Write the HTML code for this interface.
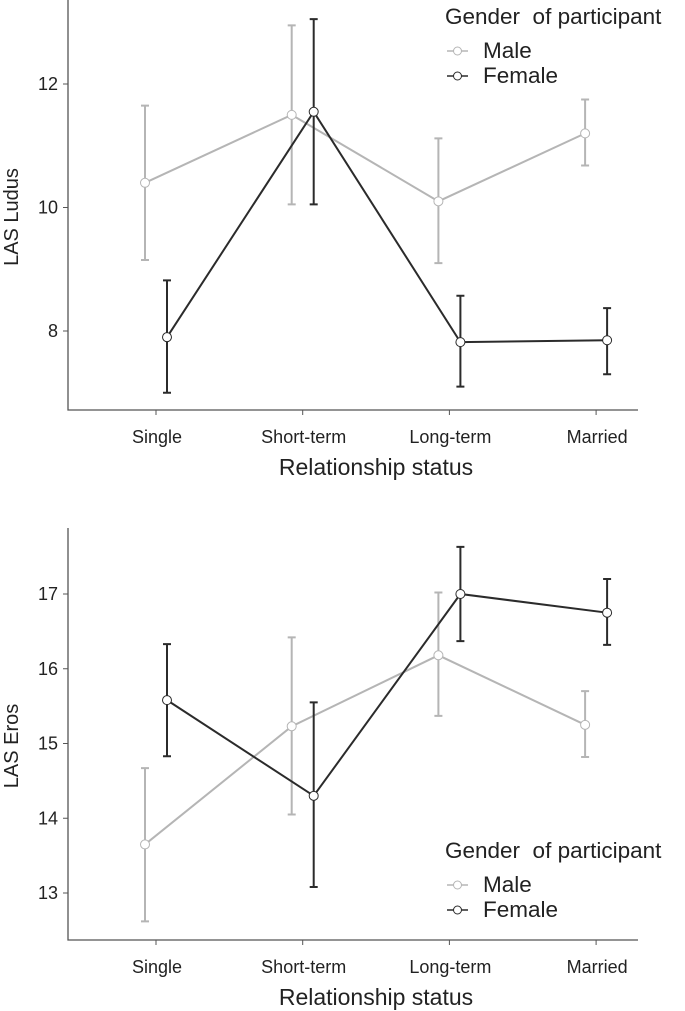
<!DOCTYPE html>
<html><head><meta charset="utf-8"><style>
body{margin:0;background:#fff}
svg{display:block;font-family:"Liberation Sans",Arial,sans-serif}
</style></head><body>
<svg id="s" width="685" height="1011"></svg>
<script>
const categories=["Single","Short-term","Long-term","Married"];
const ludusMale=[10.4,11.5,10.1,11.2];
const ludusMaleLo=[9.15,10.05,9.1,10.68];
const ludusMaleHi=[11.65,12.95,11.12,11.75];
const ludusFemale=[7.9,11.55,7.82,7.85];
const ludusFemaleLo=[7.0,10.05,7.1,7.3];
const ludusFemaleHi=[8.82,13.05,8.57,8.37];
const ludusTicks=[8,10,12];
const erosMale=[13.65,15.23,16.18,15.25];
const erosMaleLo=[12.62,14.05,15.37,14.82];
const erosMaleHi=[14.67,16.42,17.02,15.7];
const erosFemale=[15.58,14.3,17.0,16.75];
const erosFemaleLo=[14.83,13.08,16.37,16.32];
const erosFemaleHi=[16.33,15.55,17.63,17.2];
const erosTicks=[13,14,15,16,17];
const NS="http://www.w3.org/2000/svg";
const svg=document.getElementById("s");
function mk(t,a,p){const e=document.createElementNS(NS,t);for(const k in a)e.setAttribute(k,a[k]);(p||svg).appendChild(e);return e;}
function xPos(i){return 156+i*146.7;}
function panel(o){
  const g=mk("g",{});
  
  
  const y=v=>o.y0+(v-o.v0)*o.k;
  const ax=mk("path",{d:`M68,${o.top}V${o.bottom}H638`,stroke:"#555",fill:"none","stroke-width":1.3},g);
  
  o.ticks.forEach(t=>{
    mk("line",{x1:63,x2:68,y1:y(t),y2:y(t),stroke:"#555"},g);
    const tx=mk("text",{x:58,y:y(t)+6,"text-anchor":"end","font-size":18,fill:"#222"},g);tx.textContent=t;
    
  });
  categories.forEach((c,i)=>{
    mk("line",{x1:xPos(i),x2:xPos(i),y1:o.bottom,y2:o.bottom+5,stroke:"#555"},g);
    const tx=mk("text",{x:xPos(i)+1,y:o.bottom+33,"text-anchor":"middle","font-size":18,fill:"#222"},g);tx.textContent=c;
    
  });
  const xt=mk("text",{x:376,y:o.bottom+65,"text-anchor":"middle","font-size":23,fill:"#222"},g);xt.textContent="Relationship status";
  
  const cy=(o.top+o.bottom)/2+12;
  const yt=mk("text",{x:0,y:0,transform:`translate(18,${cy}) rotate(-90)`,"text-anchor":"middle","font-size":20,fill:"#222"},g);yt.textContent=o.ylab;
  
  [[o.m,o.mlo,o.mhi,"#b5b5b5",-11,"male"],[o.f,o.flo,o.fhi,"#2b2b2b",11,"female"]].forEach(([v,lo,hi,col,dx,nm])=>{
    const sg=mk("g",{},g);
    v.forEach((val,i)=>{const x=xPos(i)+dx;
      const eb=mk("path",{d:`M${x},${y(lo[i])}V${y(hi[i])}M${x-4},${y(lo[i])}H${x+4}M${x-4},${y(hi[i])}H${x+4}`,stroke:col,"stroke-width":2,fill:"none"},sg);
      });
    const ln=mk("polyline",{points:v.map((val,i)=>`${xPos(i)+dx},${y(val)}`).join(" "),stroke:col,"stroke-width":2,fill:"none"},sg);
    
    v.forEach((val,i)=>{const c=mk("circle",{cx:xPos(i)+dx,cy:y(val),r:4.5,fill:"#fff",stroke:col,"stroke-width":1},sg);
      });
  });
  const lg=mk("g",{},g);
  const lt=mk("text",{x:445,y:o.ly,"font-size":22.5,fill:"#222"},lg);lt.textContent="Gender \u00a0of participant";
  [["Male","#b5b5b5",o.ly+34],["Female","#2b2b2b",o.ly+59]].forEach(([n,col,yy])=>{
    const e=mk("g",{},lg);
    mk("line",{x1:447,x2:468,y1:yy-7,y2:yy-7,stroke:col,"stroke-width":1.5},e);
    mk("circle",{cx:457.5,cy:yy-7,r:4,fill:"#fff",stroke:col},e);
    const t=mk("text",{x:483,y:yy,"font-size":22.5,fill:"#222"},e);t.textContent=n;
  });
}
panel({name:"ludus-panel",top:0,bottom:410,v0:8,y0:331,k:-61.75,ticks:ludusTicks,ylab:"LAS Ludus",
  m:ludusMale,mlo:ludusMaleLo,mhi:ludusMaleHi,f:ludusFemale,flo:ludusFemaleLo,fhi:ludusFemaleHi,ly:24});
panel({name:"eros-panel",top:528,bottom:940,v0:17,y0:594,k:-74.75,ticks:erosTicks,ylab:"LAS Eros",
  m:erosMale,mlo:erosMaleLo,mhi:erosMaleHi,f:erosFemale,flo:erosFemaleLo,fhi:erosFemaleHi,ly:858});
</script>
</body></html>
